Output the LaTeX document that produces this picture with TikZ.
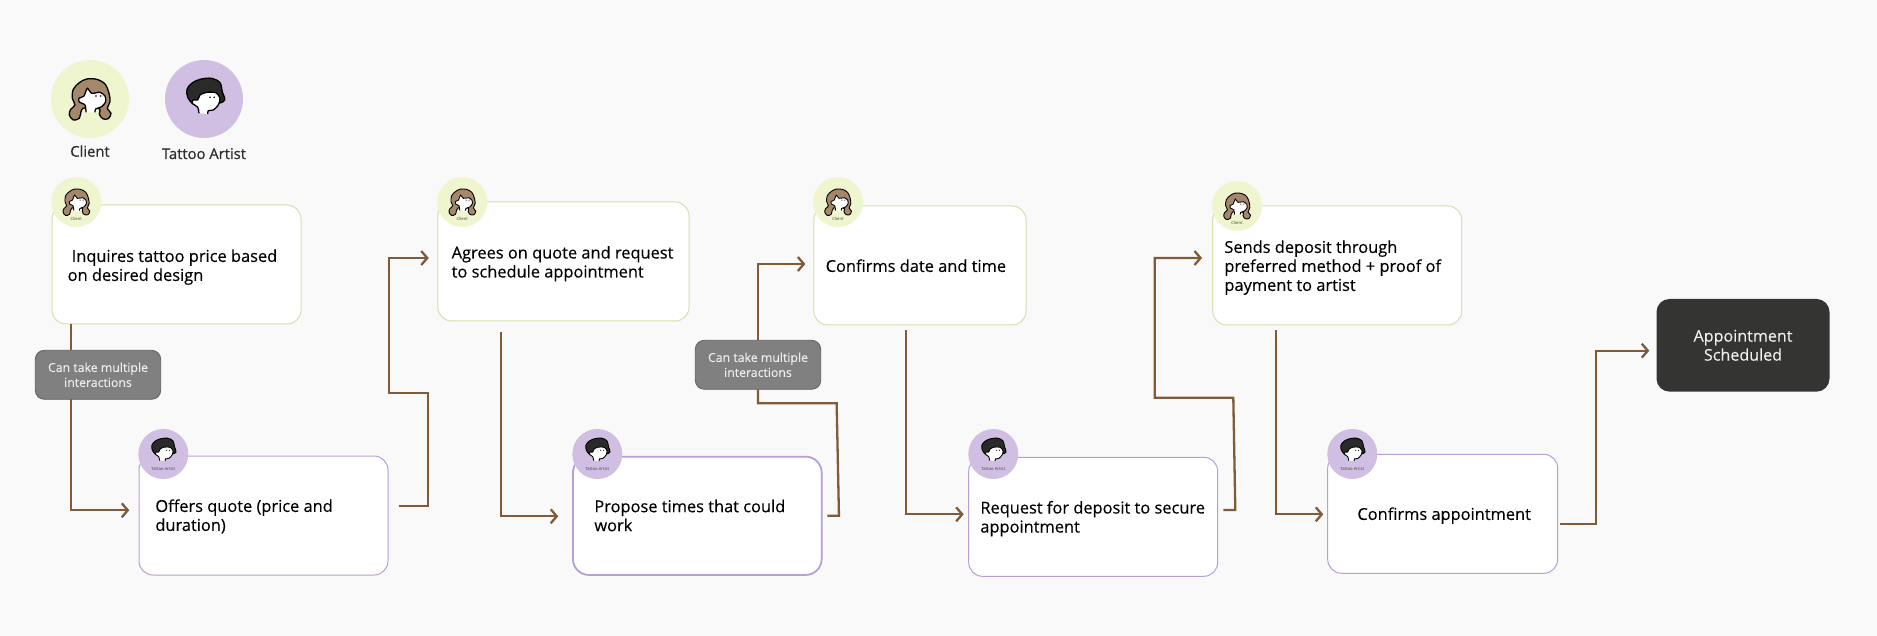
\documentclass[tikz,border=0pt]{standalone}
\usepackage{fontspec}
\setmainfont{Open Sans}
\usetikzlibrary{arrows.meta,calc}
\definecolor{bgc}{HTML}{F9F9F9}
\definecolor{cborder}{HTML}{D8DEAC}
\definecolor{aborder}{HTML}{B69FD6}
\definecolor{cfill}{HTML}{EEF5CF}
\definecolor{afill}{HTML}{D0BFE3}
\definecolor{connc}{HTML}{7F5B3A}
\definecolor{hairc}{HTML}{A5876B}
\definecolor{hairk}{HTML}{2A2A2A}
\definecolor{notec}{HTML}{808080}
\definecolor{endc}{HTML}{343432}
\tikzset{
  flowbox/.style={draw,fill=white,rounded corners=14pt,outer sep=0pt,inner sep=0pt,line width=1pt},
  clientbox/.style={flowbox,draw=cborder},
  artistbox/.style={flowbox,draw=aborder},
  boxtext/.style={anchor=north west,inner sep=0pt,align=left,text=black,font=\fontsize{16.4}{19}\selectfont\addfontfeature{FakeBold=0.25}},
  notebox/.style={draw=notec!75!black,fill=notec,rounded corners=9pt,outer sep=0pt,inner sep=0pt,line width=.8pt,
    minimum width=125.4pt,minimum height=49pt,align=center,text=white!93!black,font=\fontsize{12.3}{15}\selectfont\addfontfeature{FakeBold=0.15}},
  endbox/.style={fill=endc,rounded corners=13pt,outer sep=0pt,inner sep=0pt,minimum width=173pt,minimum height=92.7pt,
    align=center,text=white!94!black,font=\fontsize{16.1}{19}\selectfont\addfontfeature{FakeBold=0.15}},
  conn/.style={draw=connc,line width=2.3pt,line join=miter},
  arr/.style={conn,-{Straight Barb[length=6pt,width=14pt,line width=2.3pt]}},
  cav/.style={circle,fill=cfill,inner sep=0pt,outer sep=0pt,minimum size=50pt},
  aav/.style={circle,fill=afill,inner sep=0pt,outer sep=0pt,minimum size=50pt},
  tiny/.style={inner sep=0pt,text=black!75,font=\fontsize{4.2}{5}\selectfont},
  who/.style={inner sep=0pt,anchor=base,text=black!82,font=\fontsize{14.8}{17}\selectfont\addfontfeature{FakeBold=0.7}},
  clientface/.pic={
    \filldraw[fill=hairc,draw=black,line width=#1] plot[smooth cycle,tension=.55] coordinates {(-3.3,-20) (6.7,-19.7) (15,-15) (19,-5.7) (20,2.7) (17.3,9.3) (21,14.3) (18.3,19.7) (12.7,19.7) (9.3,15) (10,10.3) (3.3,8.3) (-6.7,9.3) (-9,12.7) (-10.7,19.3) (-16.7,21) (-20.7,16) (-19.3,10.3) (-15,6) (-17.7,-.7) (-16.7,-9.7) (-10.7,-16.3)};
    \filldraw[fill=white,draw=black,line width=#1] plot[smooth,tension=.45] coordinates {(5,13.3) (5.7,10) (11.7,7.7) (15.7,2.7) (15,-3) (10,-6.7) (1.7,-5.7) (-2.7,-10.7) (-6,-3) (-11,-.7) (-10.7,3) (-5,6) (-4,13.3)};
    \fill[black] (6,-3) circle (.9) (10.7,-3) circle (.9);
  },
  artistface/.pic={
    \filldraw[fill=hairk,draw=black,line width=#1] plot[smooth cycle,tension=.55] coordinates {(-4,-19.7) (7.7,-20.7) (16,-16.3) (18.3,-7.3) (20.7,1) (14.3,4.3) (-2.3,6) (-10.7,5) (-16.3,-1.7) (-17,-9.7) (-12.3,-15.7)};
    \filldraw[fill=white,draw=black,line width=#1] plot[smooth,tension=.45] coordinates {(3.7,15) (4.3,11.7) (9.3,11) (14.3,6) (16,-.7) (11.7,-6.3) (2.7,-6.7) (-4,-4) (-6.3,1) (-10.7,1) (-11.7,4.3) (-6.3,8.3) (-5,14.3)};
    \fill[black] (6,-1.7) circle (.9) (10.3,-1.7) circle (.9);
  },
}
\begin{document}
\begin{tikzpicture}[x=1pt,y=-1pt]
\fill[bgc] (0,0) rectangle (1877,636);
\useasboundingbox (0,0) rectangle (1877,636);

% legend
\node[cav,minimum size=78pt] (legc) at (90,99) {};
\node[aav,minimum size=78pt] (lega) at (204,99) {};
\pic[scale=1] at (legc.center) {clientface=1.3pt};
\pic[scale=1] at (lega.center) {artistface=1.3pt};
\node[who] (legct) at (90,156.7) {Client};
\node[who] (legat) at (204,159) {Tattoo Artist};

% boxes
\node[clientbox,minimum width=249pt,minimum height=119pt] (b1) at (176.5,264.5) {};
\node[clientbox,minimum width=251.3pt,minimum height=119pt] (b2) at (563.4,261.5) {};
\node[clientbox,minimum width=212.3pt,minimum height=119pt] (b3) at (919.9,265.5) {};
\node[clientbox,minimum width=249pt,minimum height=119pt] (b4) at (1337.2,265.5) {};
\node[artistbox,minimum width=249pt,minimum height=119pt] (a1) at (263.5,515.5) {};
\node[artistbox,minimum width=248.7pt,minimum height=118.3pt,line width=1.8pt,rounded corners=16pt] (a2) at (697.3,515.8) {};
\node[artistbox,minimum width=249pt,minimum height=119pt] (a3) at (1093.2,516.8) {};
\node[artistbox,minimum width=230pt,minimum height=119pt] (a4) at (1442.7,513.8) {};
\node[endbox] (end) at (1743,345.3) {Appointment\\Scheduled};
\node[notebox] (n1) at (98,374.8) {Can take multiple\\interactions};
\node[notebox] (n2) at (758,364.8) {Can take multiple\\interactions};

% box texts
\node[boxtext] (t1) at (67.5,248.4) {\strut\hspace*{4pt}Inquires tattoo price based\\on desired design};
\node[boxtext] (t2) at (451.5,245) {\strut Agrees on quote and request\\to schedule appointment};
\node[boxtext] (t3) at (825.5,258.4) {\strut Confirms date and time};
\node[boxtext] (t4) at (1224.2,239.4) {\strut Sends deposit through\\preferred method + proof of\\payment to artist};
\node[boxtext] (t5) at (155.2,498.4) {\strut Offers quote (price and\\duration)};
\node[boxtext] (t6) at (594.2,498.7) {\strut Propose times that could\\work};
\node[boxtext] (t7) at (980.2,500) {\strut Request for deposit to secure\\appointment};
\node[boxtext] (t8) at (1357.2,506.4) {\strut Confirms appointment};

% connectors
\draw[conn] ([xshift=-105.2pt]b1.south) -- ([xshift=-26.7pt]n1.north);
\draw[arr] ([xshift=-26.7pt]n1.south) |- ([xshift=-9.7pt,yshift=5.2pt]a1.west);
\draw[arr] ([xshift=11.3pt,yshift=9.8pt]a1.east) -- ++(29,0) -- ++(0,-112.7) -- ++(-39.3,0) |- ([xshift=-9pt,yshift=3.5pt]b2.west);
\draw[arr] ([xshift=-62.7pt,yshift=-11.3pt]b2.south) |- ([xshift=-14.7pt,yshift=-.5pt]a2.west);
\draw[conn] ([xshift=5.6pt,yshift=.1pt]a2.east) -- ++(11.7,0) -- ++(-2.3,-112.4) -| (n2.south);
\draw[arr] (n2.north) |- ([xshift=-8.4pt,yshift=1.5pt]b3.west);
\draw[arr] ([xshift=-14.2pt,yshift=-5pt]b3.south) |- ([xshift=-5pt,yshift=2.5pt]a3.west);
\draw[arr] ([xshift=5.6pt,yshift=6.8pt]a3.east) -- ++(12,0) -- ++(-2,-112.3) -- ++(-78.6,0) |- ([xshift=-10.7pt,yshift=7.5pt]b4.west);
\draw[arr] ([xshift=-61.5pt,yshift=-5pt]b4.south) |- ([xshift=-4.4pt,yshift=-.5pt]a4.west);
\draw[arr] ([xshift=2.6pt,yshift=-9.9pt]a4.east) -- ++(35.7,0) |- ([xshift=-7.2pt,yshift=-5.4pt]end.west);

% avatars on the boxes
\foreach \nm/\px/\py in {c1/76.3/202,c2/462.3/202,c3/838/202,c4/1237/206}{
  \node[cav] (\nm) at (\px,\py) {};
  \pic[scale=.64] at (\nm.center) {clientface=.9pt};
  \node[tiny] (\nm t) at ($(\nm.center)+(0,17.3)$) {Client};
}
\foreach \nm/\px/\py in {p1/163.3/454,p2/597.3/454,p3/993.3/454,p4/1352.3/454}{
  \node[aav] (\nm) at (\px,\py) {};
  \pic[scale=.64] at ($(\nm.center)+(-.5,-2.6)$) {artistface=.9pt};
  \node[tiny] (\nm t) at ($(\nm.center)+(0,15.3)$) {Tattoo Artist};
}
\end{tikzpicture}
\end{document}
